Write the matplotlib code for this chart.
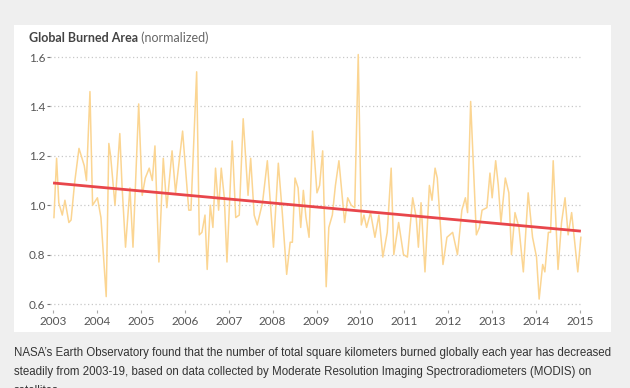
import matplotlib
matplotlib.use("Agg")
import matplotlib.pyplot as plt
from matplotlib.patches import Rectangle
import numpy as np

# ---- data ----
years = [2003.02, 2003.08, 2003.13, 2003.21, 2003.27, 2003.36, 2003.41, 2003.49, 2003.59, 2003.71,
         2003.76, 2003.84, 2003.90, 2004.01, 2004.09, 2004.21, 2004.27, 2004.31, 2004.41, 2004.52,
         2004.57, 2004.65, 2004.75, 2004.82, 2004.95, 2005.03, 2005.10, 2005.19, 2005.26, 2005.32,
         2005.41, 2005.51, 2005.59, 2005.71, 2005.79, 2005.95, 2006.09, 2006.14, 2006.27, 2006.33,
         2006.39, 2006.46, 2006.51, 2006.58, 2006.64, 2006.70, 2006.77, 2006.83, 2006.90, 2006.96,
         2007.08, 2007.16, 2007.24, 2007.33, 2007.44, 2007.50, 2007.58, 2007.65, 2007.77, 2007.88,
         2008.02, 2008.13, 2008.22, 2008.32, 2008.40, 2008.45, 2008.51, 2008.58, 2008.64, 2008.70,
         2008.76, 2008.83, 2008.91, 2009.01, 2009.07, 2009.14, 2009.22, 2009.28, 2009.36, 2009.43,
         2009.51, 2009.64, 2009.71, 2009.79, 2009.87, 2009.95, 2010.02, 2010.08, 2010.14, 2010.23,
         2010.33, 2010.42, 2010.51, 2010.61, 2010.70, 2010.76, 2010.87, 2010.98, 2011.07, 2011.19,
         2011.27, 2011.32, 2011.38, 2011.47, 2011.57, 2011.63, 2011.70, 2011.75, 2011.88, 2011.97,
         2012.10, 2012.21, 2012.31, 2012.39, 2012.44, 2012.51, 2012.57, 2012.64, 2012.71, 2012.77,
         2012.88, 2012.95, 2013.00, 2013.08, 2013.14, 2013.20, 2013.30, 2013.38, 2013.44, 2013.52,
         2013.61, 2013.71, 2013.82, 2013.92, 2014.01, 2014.07, 2014.15, 2014.20, 2014.28, 2014.33,
         2014.39, 2014.50, 2014.58, 2014.66, 2014.73, 2014.81, 2014.95, 2015.02]
burned = [0.95, 1.19, 1.01, 0.96, 1.02, 0.93, 0.94, 1.09, 1.23, 1.16,
          1.10, 1.46, 1.00, 1.03, 0.95, 0.63, 1.25, 1.20, 1.00, 1.29,
          1.08, 0.83, 1.07, 0.83, 1.41, 1.04, 1.11, 1.15, 1.10, 1.24,
          0.77, 1.19, 0.99, 1.22, 1.05, 1.30, 0.98, 0.98, 1.54, 0.88,
          0.89, 0.96, 0.74, 1.00, 0.91, 1.15, 0.98, 1.15, 1.03, 0.77,
          1.26, 0.95, 0.96, 1.35, 1.04, 1.19, 0.96, 0.92, 1.01, 1.18,
          0.83, 1.17, 0.97, 0.72, 0.85, 0.85, 1.11, 1.07, 0.91, 1.06,
          0.95, 0.87, 1.30, 1.05, 1.08, 1.22, 0.67, 0.91, 0.96, 1.08,
          1.18, 0.93, 1.03, 1.00, 0.99, 1.61, 0.92, 0.96, 0.91, 0.97,
          0.87, 0.96, 0.79, 0.89, 1.15, 0.80, 0.93, 0.80, 0.79, 1.03,
          0.95, 0.83, 1.01, 0.73, 1.08, 1.02, 1.15, 1.11, 0.76, 0.87,
          0.89, 0.80, 0.98, 1.03, 0.97, 1.42, 1.17, 0.88, 0.91, 0.98,
          0.99, 1.13, 1.03, 1.18, 1.08, 0.93, 1.11, 1.05, 0.80, 0.97,
          0.91, 0.73, 1.05, 0.87, 0.79, 0.62, 0.76, 0.73, 0.89, 0.89,
          1.18, 0.74, 0.93, 1.03, 0.88, 0.97, 0.73, 0.87]
trend_years = [2003.0, 2015.02]
trend_values = [1.09, 0.895]
y_ticks = [0.6, 0.8, 1.0, 1.2, 1.4, 1.6]
x_ticks = list(range(2003, 2016))
title_bold = "Global Burned Area"
title_light = " (normalized)"
caption = ["NASA\u2019s Earth Observatory found that the number of total square kilometers burned globally each year has decreased",
           "steadily from 2003-19, based on data collected by Moderate Resolution Imaging Spectroradiometers (MODIS) on",
           "satellites."]

W, H = 630, 388
fig = plt.figure(figsize=(W / 100, H / 100), dpi=100, facecolor="#efefef")
fig.patches.append(Rectangle((14 / W, 1 - 332 / H), 597 / W, 307 / H,
                             transform=fig.transFigure, facecolor="white",
                             edgecolor="none", zorder=-5))

ax = fig.add_axes([50 / W, 1 - 310 / H, 532 / W, 260 / H])
ax.set_zorder(2)
ax.set_facecolor("none")
ax.set_xlim(2002.93, 2015.046)
ax.set_ylim(0.6 - 6 / 247, 1.6 + 7 / 247)

for s in ax.spines.values():
    s.set_visible(False)

ax.set_yticks(y_ticks)
ax.set_yticklabels([f"{v:.1f}" for v in y_ticks])
ax.set_xticks(x_ticks)
ax.set_xticklabels([str(v) for v in x_ticks])
ax.yaxis.grid(True, linestyle=(0, (1, 2)), color="#c8c8c8", linewidth=0.9)
ax.xaxis.grid(False)
ax.tick_params(axis="y", length=2, width=0.8, color="#777", pad=1.5,
               labelsize=8.5, labelcolor="#555")
ax.tick_params(axis="x", length=2.5, width=0.8, color="#aaa", pad=1.5,
               labelsize=8.5, labelcolor="#555")
for lbl in ax.get_xticklabels() + ax.get_yticklabels():
    lbl.set_family("Lato")

ax.plot(years, burned, color="#fbd592", linewidth=1.1, zorder=2, clip_on=False)
ax.plot(trend_years, trend_values, color="#e8464b", linewidth=2.0, zorder=3,
        solid_capstyle="butt", clip_on=False)

t1 = fig.text(29 / W, 1 - 38 / H, title_bold, fontsize=9, fontweight="bold",
              family="Lato", color="#444", va="center", ha="left")
fig.canvas.draw()
bb = t1.get_window_extent()
fig.text(bb.x1 / W, 1 - 38 / H, title_light, fontsize=9, family="Lato",
         color="#666", va="center", ha="left")

for i, line in enumerate(caption):
    fig.text(14 / W, 1 - (353 + 19 * i) / H, line, fontsize=8.3,
             family="Liberation Sans", color="#333", va="center", ha="left")

fig.savefig("out.png", dpi=100, facecolor=fig.get_facecolor())
